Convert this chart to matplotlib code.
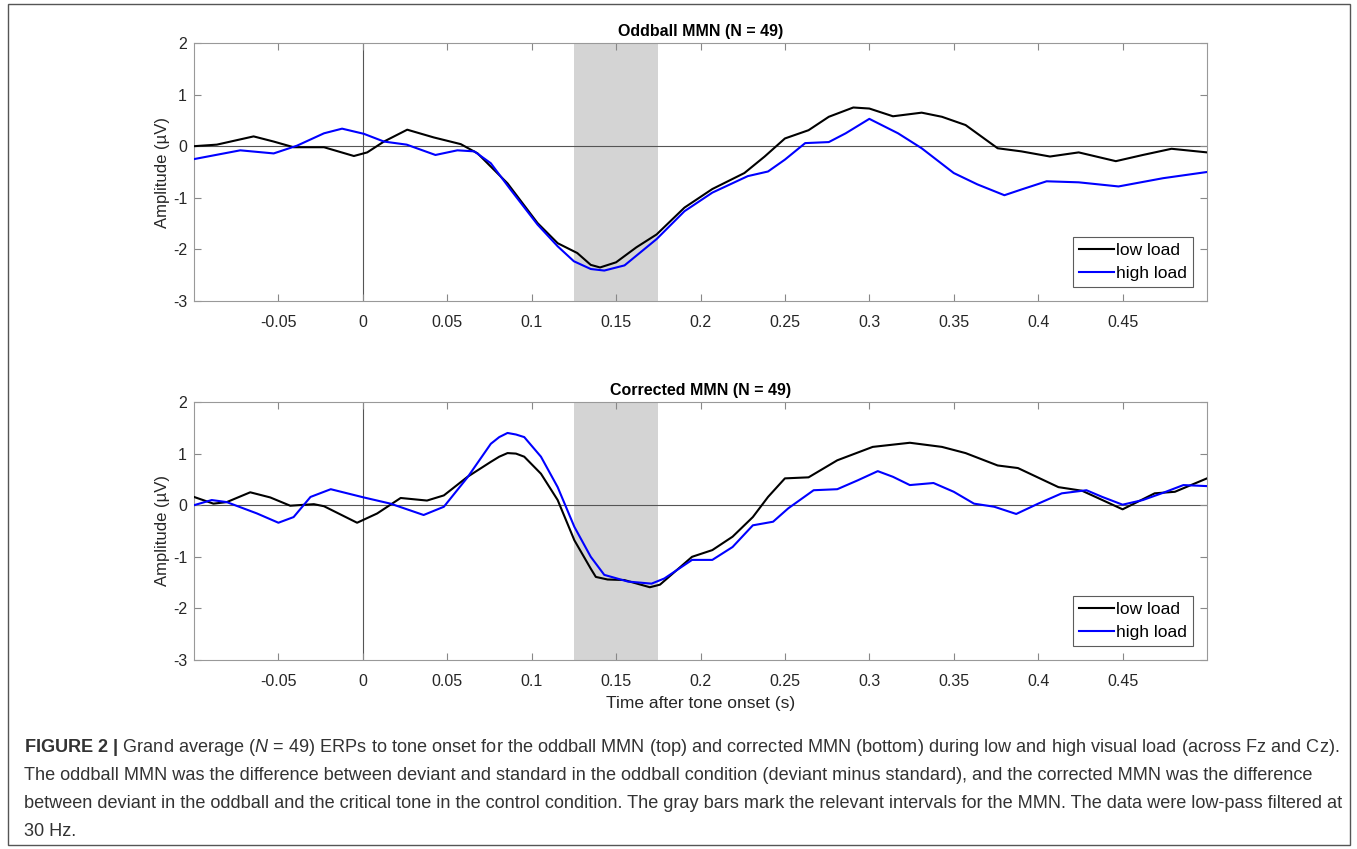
import numpy as np
import matplotlib.pyplot as plt
from matplotlib.patches import Rectangle

plt.rcParams['font.family'] = ['Liberation Sans', 'DejaVu Sans']
plt.rcParams['axes.unicode_minus'] = False
plt.rcParams['mathtext.fontset'] = 'custom'
plt.rcParams['mathtext.rm'] = 'Liberation Sans'
plt.rcParams['mathtext.it'] = 'Liberation Sans:italic'
plt.rcParams['mathtext.bf'] = 'Liberation Sans:bold'

# ---- data (time in s, amplitude in uV) ----
odd_low_t = [-0.1, -0.0865, -0.0647, -0.0528, -0.041, -0.023, -0.0053, 0.0026, 0.0125, 0.0263,
             0.042, 0.058, 0.068, 0.0857, 0.1035, 0.1154, 0.127, 0.135, 0.1405, 0.15, 0.162,
             0.174, 0.1905, 0.207, 0.226, 0.238, 0.25, 0.264, 0.276, 0.2905, 0.30, 0.314, 0.331,
             0.343, 0.357, 0.376, 0.39, 0.407, 0.424, 0.446, 0.462, 0.479, 0.50]
odd_low_a = [0.0, 0.03, 0.19, 0.09, -0.02, -0.02, -0.19, -0.12, 0.09, 0.32,
             0.17, 0.04, -0.14, -0.72, -1.49, -1.88, -2.07, -2.30, -2.35, -2.25, -1.96,
             -1.71, -1.19, -0.83, -0.52, -0.20, 0.15, 0.31, 0.57, 0.75, 0.73, 0.58, 0.65,
             0.57, 0.41, -0.04, -0.10, -0.20, -0.12, -0.29, -0.17, -0.05, -0.12]

odd_high_t = [-0.1, -0.0726, -0.0528, -0.039, -0.023, -0.0123, 0.0006, 0.0125, 0.026, 0.043,
              0.056, 0.066, 0.0758, 0.0877, 0.1035, 0.1154, 0.125, 0.135, 0.143, 0.155, 0.174,
              0.1905, 0.207, 0.228, 0.240, 0.25, 0.262, 0.276, 0.286, 0.30, 0.317, 0.331, 0.35,
              0.364, 0.380, 0.390, 0.405, 0.424, 0.4476, 0.474, 0.50]
odd_high_a = [-0.25, -0.08, -0.14, 0.01, 0.25, 0.34, 0.24, 0.09, 0.03, -0.17,
              -0.08, -0.10, -0.33, -0.85, -1.52, -1.94, -2.23, -2.38, -2.41, -2.31, -1.80,
              -1.26, -0.90, -0.58, -0.49, -0.26, 0.06, 0.08, 0.25, 0.53, 0.25, -0.04, -0.52,
              -0.74, -0.95, -0.84, -0.68, -0.70, -0.78, -0.62, -0.50]

cor_low_t = [-0.1, -0.0885, -0.0806, -0.0667, -0.0548, -0.043, -0.029, -0.023, -0.0034, 0.0085,
             0.0224, 0.038, 0.048, 0.062, 0.0758, 0.0808, 0.0857, 0.0907, 0.0956, 0.1055, 0.1154,
             0.1253, 0.135, 0.138, 0.145, 0.1548, 0.170, 0.176, 0.195, 0.207, 0.219, 0.231, 0.240,
             0.25, 0.264, 0.281, 0.302, 0.324, 0.343, 0.357, 0.376, 0.388, 0.412, 0.426, 0.438,
             0.45, 0.469, 0.481, 0.50]
cor_low_a = [0.16, 0.03, 0.06, 0.25, 0.15, -0.01, 0.02, -0.02, -0.34, -0.16,
             0.14, 0.09, 0.19, 0.55, 0.84, 0.94, 1.01, 1.0, 0.94, 0.61, 0.10,
             -0.68, -1.23, -1.39, -1.44, -1.45, -1.59, -1.54, -1.0, -0.87, -0.61, -0.23, 0.16,
             0.52, 0.54, 0.87, 1.13, 1.21, 1.13, 1.01, 0.77, 0.72, 0.35, 0.28, 0.10,
             -0.08, 0.23, 0.26, 0.52]

cor_high_t = [-0.1, -0.0895, -0.0806, -0.0627, -0.050, -0.041, -0.031, -0.019, 0.0006, 0.0164,
              0.036, 0.048, 0.062, 0.0758, 0.0808, 0.0857, 0.0907, 0.0956, 0.1055, 0.1154, 0.1253,
              0.135, 0.143, 0.157, 0.171, 0.1786, 0.195, 0.207, 0.219, 0.231, 0.243, 0.252, 0.267,
              0.281, 0.293, 0.305, 0.314, 0.324, 0.338, 0.350, 0.362, 0.374, 0.387, 0.40, 0.414,
              0.4286, 0.438, 0.45, 0.462, 0.474, 0.486, 0.50]
cor_high_a = [0.0, 0.10, 0.06, -0.16, -0.34, -0.23, 0.16, 0.31, 0.15, 0.03,
              -0.19, -0.03, 0.54, 1.19, 1.32, 1.40, 1.37, 1.32, 0.94, 0.35, -0.42,
              -1.0, -1.35, -1.48, -1.52, -1.42, -1.06, -1.06, -0.81, -0.39, -0.32, -0.06, 0.29,
              0.31, 0.48, 0.66, 0.55, 0.39, 0.43, 0.26, 0.03, -0.03, -0.17, 0.03, 0.23,
              0.29, 0.16, 0.01, 0.10, 0.24, 0.39, 0.37]

titles = ['Oddball MMN (N = 49)', 'Corrected MMN (N = 49)']
xticks = [-0.05, 0, 0.05, 0.1, 0.15, 0.2, 0.25, 0.3, 0.35, 0.4, 0.45]
xticklabels = ['-0.05', '0', '0.05', '0.1', '0.15', '0.2', '0.25', '0.3', '0.35', '0.4', '0.45']
yticks = [-3, -2, -1, 0, 1, 2]
mmn_window = (0.125, 0.175)

fig = plt.figure(figsize=(13.57, 8.49), dpi=100)
W, H = 1357, 849

def axes_px(left, top, right, bottom):
    return fig.add_axes([left / W, 1 - bottom / H, (right - left) / W, (bottom - top) / H])

ax1 = axes_px(194, 43, 1207, 301)
ax2 = axes_px(194, 402, 1207, 660)

data = [(odd_low_t, odd_low_a, odd_high_t, odd_high_a),
        (cor_low_t, cor_low_a, cor_high_t, cor_high_a)]

for ax, title, (lt, la, ht, ha) in zip([ax1, ax2], titles, data):
    ax.axvspan(mmn_window[0], mmn_window[1], color='#d4d4d4', lw=0, zorder=0)
    ax.axhline(0, color='#555555', lw=0.8, zorder=1)
    ax.axvline(0, color='#555555', lw=0.8, zorder=1)
    ax.plot(lt, la, color='black', lw=1.5, label='low load', zorder=3)
    ax.plot(ht, ha, color='#0000ff', lw=1.5, label='high load', zorder=3)
    ax.set_xlim(-0.1, 0.5)
    ax.set_ylim(-3, 2)
    ax.set_xticks(xticks)
    ax.set_xticklabels(xticklabels)
    ax.set_yticks(yticks)
    ax.tick_params(direction='in', top=True, right=True, length=5, width=0.8,
                   color='#888888', labelsize=11.5, labelcolor='#262626')
    ax.tick_params(axis='y', pad=5)
    ax.tick_params(axis='x', pad=10)
    for s in ax.spines.values():
        s.set_color('#999999')
        s.set_linewidth(0.8)
    ax.set_title(title, fontsize=11.5, fontweight='bold', pad=5)
    ax.set_ylabel('Amplitude (\u00b5V)', fontsize=12, color='#262626', labelpad=2)
    leg = ax.legend(loc='lower right', fontsize=12.5, frameon=True, fancybox=False,
                    handlelength=2.0, handletextpad=0.15, borderpad=0.35,
                    labelspacing=0.45, borderaxespad=0.8)
    leg.get_frame().set_edgecolor('#333333')
    leg.get_frame().set_linewidth(0.8)

ax2.set_xlabel('Time after tone onset (s)', fontsize=12.5, color='#262626', labelpad=5)

# figure border
fig.patches.append(Rectangle((8 / W, 4 / H), (1350 - 8) / W, (845 - 4) / H,
                             transform=fig.transFigure, fill=False,
                             edgecolor='#555555', lw=1.0))

caption = [
    r"$\mathbf{FIGURE\ 2\ |}$ Grand average ($\mathit{N}$ = 49) ERPs to tone onset for the oddball MMN (top) and corrected MMN (bottom) during low and high visual load (across Fz and Cz).",
    "The oddball MMN was the difference between deviant and standard in the oddball condition (deviant minus standard), and the corrected MMN was the difference",
    "between deviant in the oddball and the critical tone in the control condition. The gray bars mark the relevant intervals for the MMN. The data were low-pass filtered at",
    "30 Hz.",
]
for i, line in enumerate(caption):
    fig.text(24 / W, 1 - (747 + 28 * i) / H, line, fontsize=13.1, color='#333333',
             ha='left', va='center')

fig.savefig('out.png', dpi=100)
